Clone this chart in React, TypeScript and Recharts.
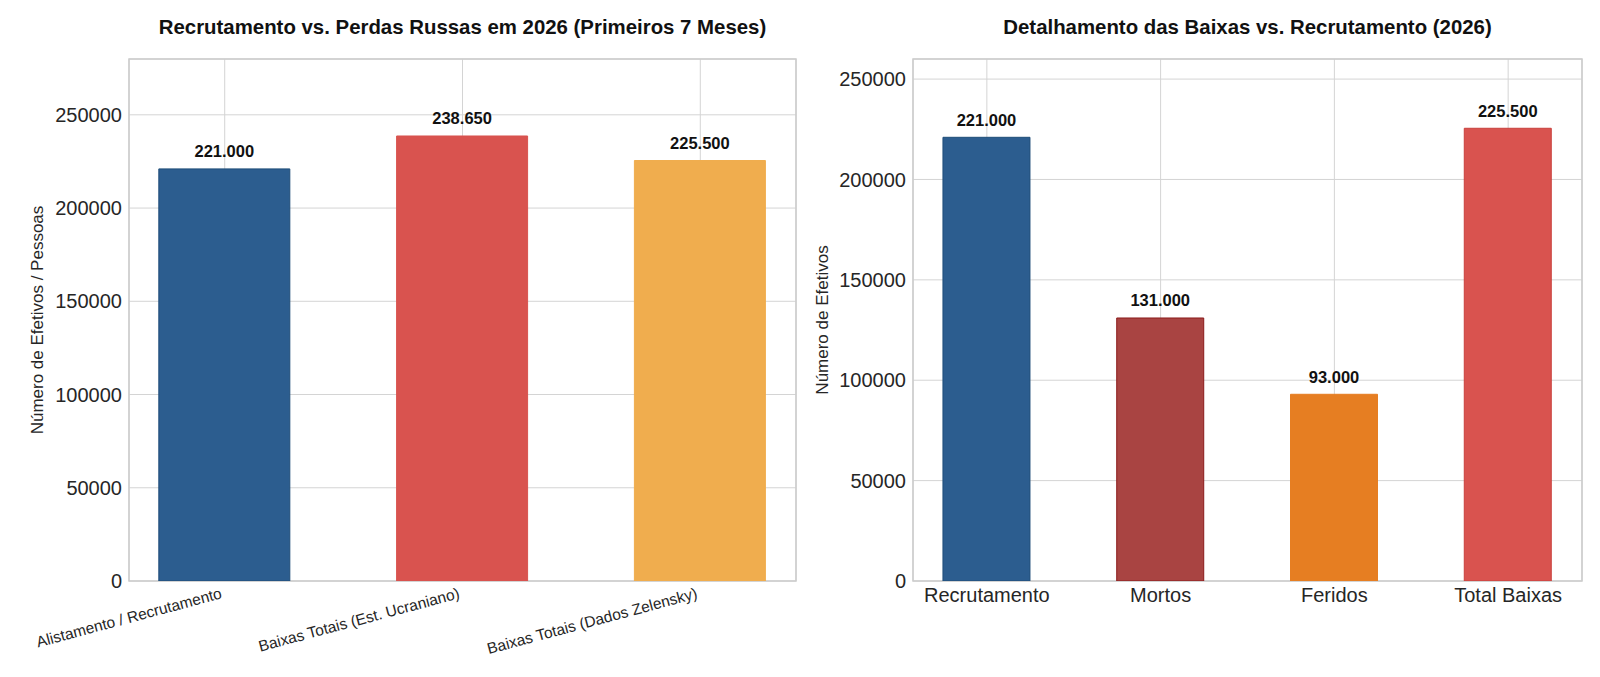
import { Bar, BarChart, CartesianGrid, Cell, LabelList, ReferenceArea, XAxis, YAxis } from "recharts";

const leftCategories = [
  "Alistamento / Recrutamento",
  "Baixas Totais (Est. Ucraniano)",
  "Baixas Totais (Dados Zelensky)",
];
const leftValues = [221000, 238650, 225500];
const leftColors = ["#2c5d8f", "#d9534f", "#f0ad4e"];
const leftEdges = ["#1f4e79", "#d9534f", "#f0ad4e"];
const leftTicks = [0, 50000, 100000, 150000, 200000, 250000];

const rightCategories = ["Recrutamento", "Mortos", "Feridos", "Total Baixas"];
const rightValues = [221000, 131000, 93000, 225500];
const rightColors = ["#2c5d8f", "#a94442", "#e67e22", "#d9534f"];
const rightEdges = ["#1f4e79", "#8b1a1a", "#e67e22", "#c9403c"];
const rightTicks = [0, 50000, 100000, 150000, 200000, 250000];

const font = "'Liberation Sans', Arial, sans-serif";
const ink = "#262626";
const grid = "#d4d4d4";
const frame = "#cccccc";

// pt-BR thousands: 221000 -> 221.000
const fmt = (v: number) => String(v).replace(/\B(?=(\d{3})+(?!\d))/g, ".");

function ValueLabel(props: any) {
  const { x, y, width, value } = props;
  return (
    <text
      x={x + width / 2}
      y={y - 11.5}
      textAnchor="middle"
      fontSize={16.5}
      fontWeight="bold"
      fill="#111"
    >
      {fmt(value)}
    </text>
  );
}

function SlantTick(props: any) {
  const { x, y, payload } = props;
  return (
    <g transform={`translate(${x - 2},${y + 17})`}>
      <text transform="rotate(-15)" textAnchor="end" fontSize={15.5} fill={ink}>
        {leftCategories[payload.value]}
      </text>
    </g>
  );
}

function Title({ text, left, width }: { text: string; left: number; width: number }) {
  return (
    <div
      style={{
        position: "absolute",
        left,
        width,
        top: 16.7,
        textAlign: "center",
        fontSize: 20.4,
        lineHeight: "20.4px",
        fontWeight: "bold",
        color: "#111",
        whiteSpace: "nowrap",
      }}
    >
      {text}
    </div>
  );
}

function SideLabel({ text, x }: { text: string; x: number }) {
  return (
    <div
      style={{
        position: "absolute",
        left: x,
        top: 320,
        transform: "translate(-50%, -50%) rotate(-90deg)",
        fontSize: 17,
        lineHeight: "17px",
        color: ink,
        whiteSpace: "nowrap",
      }}
    >
      {text}
    </div>
  );
}

export default function App() {
  const leftData = leftCategories.map((name, i) => ({ x: i, name, value: leftValues[i] }));
  const rightData = rightCategories.map((name, i) => ({ x: i, name, value: rightValues[i] }));
  const leftMax = Math.max(...leftValues) * 1.173;
  const rightMax = Math.max(...rightValues) * 1.153;
  const leftDom: [number, number] = [-0.4025, 2.4025];
  const rightDom: [number, number] = [-0.425, 3.425];

  return (
    <div
      style={{
        position: "absolute",
        left: 0,
        top: 0,
        width: 1600,
        height: 677,
        background: "#fff",
        fontFamily: font,
      }}
    >
      <Title text="Recrutamento vs. Perdas Russas em 2026 (Primeiros 7 Meses)" left={129} width={667} />
      <Title text="Detalhamento das Baixas vs. Recrutamento (2026)" left={913} width={669} />
      <SideLabel text="Número de Efetivos / Pessoas" x={37} />
      <SideLabel text="Número de Efetivos" x={822} />

      <div style={{ position: "absolute", left: 0, top: 0 }}>
        <BarChart width={800} height={677} data={leftData} margin={{ top: 59, right: 4, bottom: 56, left: 0 }}>
          <CartesianGrid stroke={grid} strokeWidth={1} />
          <ReferenceArea
            x1={leftDom[0]}
            x2={leftDom[1]}
            y1={0}
            y2={leftMax}
            fill="none"
            stroke={frame}
            strokeWidth={1.5}
            ifOverflow="visible"
          />
          <XAxis
            dataKey="x"
            type="number"
            domain={leftDom}
            ticks={[0, 1, 2]}
            allowDataOverflow
            height={40}
            axisLine={false}
            tickLine={false}
            tickSize={0}
            tickMargin={0}
            tick={<SlantTick />}
            interval={0}
          />
          <YAxis
            type="number"
            domain={[0, leftMax]}
            ticks={leftTicks}
            allowDataOverflow
            width={129}
            axisLine={false}
            tickLine={false}
            tickSize={0}
            tickMargin={7}
            tick={{ fontSize: 20, fill: ink }}
          />
          <Bar dataKey="value" barSize={131} isAnimationActive={false}>
            {leftData.map((d, i) => (
              <Cell key={d.name} fill={leftColors[i]} stroke={leftEdges[i]} strokeWidth={1} />
            ))}
            <LabelList dataKey="value" content={<ValueLabel />} />
          </Bar>
        </BarChart>
      </div>

      <div style={{ position: "absolute", left: 800, top: 0 }}>
        <BarChart width={800} height={677} data={rightData} margin={{ top: 59, right: 18, bottom: 56, left: 0 }}>
          <CartesianGrid stroke={grid} strokeWidth={1} />
          <ReferenceArea
            x1={rightDom[0]}
            x2={rightDom[1]}
            y1={0}
            y2={rightMax}
            fill="none"
            stroke={frame}
            strokeWidth={1.5}
            ifOverflow="visible"
          />
          <XAxis
            dataKey="x"
            type="number"
            domain={rightDom}
            ticks={[0, 1, 2, 3]}
            allowDataOverflow
            height={40}
            axisLine={false}
            tickLine={false}
            tickSize={0}
            tickMargin={7}
            interval={0}
            tickFormatter={(v: number) => rightCategories[v]}
            tick={{ fontSize: 20, fill: ink }}
          />
          <YAxis
            type="number"
            domain={[0, rightMax]}
            ticks={rightTicks}
            allowDataOverflow
            width={113}
            axisLine={false}
            tickLine={false}
            tickSize={0}
            tickMargin={7}
            tick={{ fontSize: 20, fill: ink }}
          />
          <Bar dataKey="value" barSize={87} isAnimationActive={false}>
            {rightData.map((d, i) => (
              <Cell key={d.name} fill={rightColors[i]} stroke={rightEdges[i]} strokeWidth={1} />
            ))}
            <LabelList dataKey="value" content={<ValueLabel />} />
          </Bar>
        </BarChart>
      </div>
    </div>
  );
}
